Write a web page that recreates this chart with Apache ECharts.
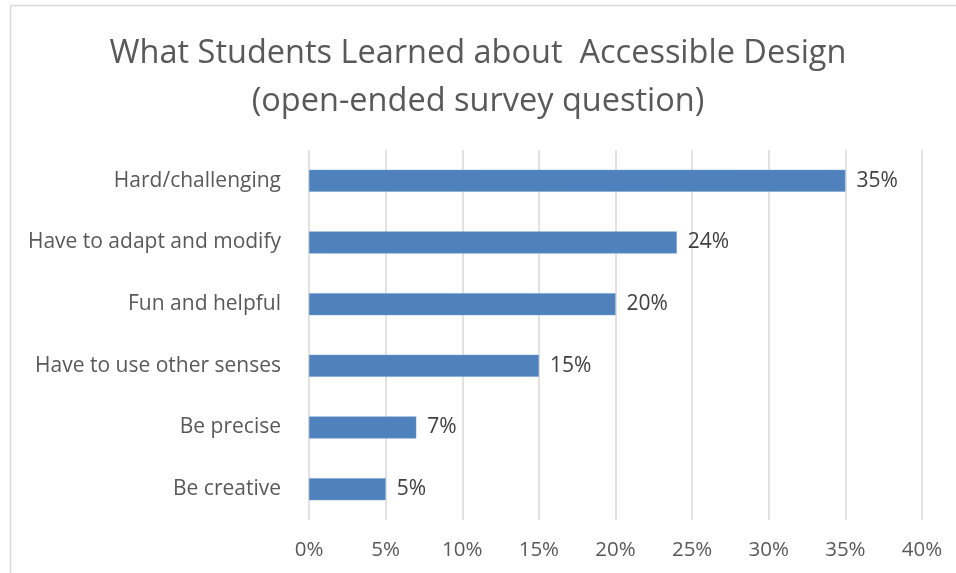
<!DOCTYPE html>
<html>
<head>
<meta charset="utf-8">
<script src="https://cdn.jsdelivr.net/npm/echarts@6/dist/echarts.min.js"></script>
<style>
  html, body { margin: 0; padding: 0; background: #fff; }
  #chart { width: 956px; height: 573px; }
</style>
</head>
<body>
<div id="chart"></div>
<script>
// Survey responses, listed top to bottom
const categories = [
  'Hard/challenging',
  'Have to adapt and modify',
  'Fun and helpful',
  'Have to use other senses',
  'Be precise',
  'Be creative'
];
// Share of students giving each response (percent)
const shares = [35, 24, 20, 15, 7, 5];
const tickStep = 5;
const axisMax = 40;

const FONT = '"Open Sans", "Noto Sans", sans-serif';

const chart = echarts.init(document.getElementById('chart'), null, { renderer: 'canvas' });

chart.setOption({
  backgroundColor: '#ffffff',
  animation: false,
  title: {
    text: 'What Students Learned about  Accessible Design\n(open-ended survey question)',
    left: 'center',
    top: 25,
    textStyle: {
      fontFamily: FONT,
      fontSize: 32.5,
      fontWeight: 'normal',
      color: '#595959',
      lineHeight: 48
    }
  },
  graphic: [
    { type: 'line', shape: { x1: 10.5, y1: 5.5, x2: 956, y2: 5.5 }, style: { stroke: '#d9d9d9', lineWidth: 1.5 } },
    { type: 'line', shape: { x1: 10.5, y1: 5.5, x2: 10.5, y2: 573 }, style: { stroke: '#d9d9d9', lineWidth: 1.5 } }
  ],
  grid: {
    left: 309,
    right: 34,
    top: 150,
    bottom: 53,
    containLabel: false
  },
  xAxis: {
    type: 'value',
    min: 0,
    max: axisMax,
    interval: tickStep,
    axisLine: { show: false },
    axisTick: { show: false },
    splitLine: { show: true, lineStyle: { color: '#d9d9d9', width: 1.5 } },
    axisLabel: {
      formatter: v => v + '%',
      fontFamily: FONT,
      fontSize: 20.5,
      color: '#595959',
      margin: 20
    }
  },
  yAxis: {
    type: 'category',
    data: categories,
    inverse: true,
    axisLine: { show: false },
    axisTick: { show: false },
    splitLine: { show: false },
    axisLabel: {
      fontFamily: FONT,
      fontSize: 21,
      color: '#595959',
      margin: 28
    }
  },
  series: [{
    type: 'bar',
    data: shares,
    barWidth: 22,
    itemStyle: { color: '#4f81bd', borderColor: '#6f9bd1', borderWidth: 0.5 },
    label: {
      show: true,
      position: 'right',
      distance: 11,
      formatter: p => p.value + '%',
      fontFamily: FONT,
      fontSize: 21,
      color: '#404040'
    }
  }]
});
</script>
</body>
</html>
